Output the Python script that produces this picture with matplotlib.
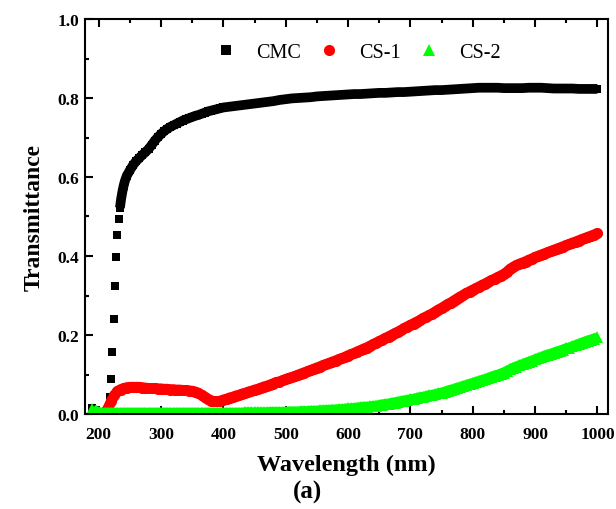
import numpy as np
import matplotlib
matplotlib.use('Agg')
import matplotlib.pyplot as plt
from matplotlib.lines import Line2D
from matplotlib.ticker import MultipleLocator

plt.rcParams['font.family'] = ['Liberation Serif', 'DejaVu Serif']
plt.rcParams['font.weight'] = 'bold'

# CMC: finer sampling through the absorption edge
cmc_wl = [190, 195, 200, 205, 210, 212, 214, 216, 218, 220, 222, 224, 226, 228,
          230, 232, 234, 236, 238, 240, 242, 245,
          250, 255, 260, 265, 270, 275, 280, 285, 290, 295, 300, 305, 310, 315,
          320, 325, 330, 335, 340, 345, 350, 355, 360, 365, 370, 375, 380, 385,
          390, 395, 400,
          410, 420, 430, 440, 450, 460, 470, 480, 490, 500, 510, 520, 530, 540,
          550, 560, 570, 580, 590, 600, 610, 620, 630, 640, 650, 660, 670, 680,
          690, 700, 710, 720, 730, 740, 750, 760, 770, 780, 790, 800, 810, 820,
          830, 840, 850, 860, 870, 880, 890, 900, 910, 920, 930, 940, 950, 960,
          970, 980, 990, 1000]
cmc_t = [0.015, 0.010, 0.006, 0.004, 0.005, 0.005, 0.008, 0.018, 0.042, 0.088,
         0.156, 0.240, 0.325, 0.397, 0.454, 0.494, 0.522, 0.545, 0.563, 0.578,
         0.590, 0.603,
         0.617, 0.630, 0.640, 0.648, 0.656, 0.663, 0.671, 0.681, 0.692, 0.701,
         0.709, 0.716, 0.722, 0.727, 0.731, 0.735, 0.739, 0.743, 0.746, 0.749,
         0.752, 0.755, 0.757, 0.760, 0.763, 0.766, 0.768, 0.770, 0.772, 0.774,
         0.776,
         0.778, 0.780, 0.782, 0.784, 0.786, 0.788, 0.790, 0.792, 0.795, 0.797,
         0.799, 0.800, 0.801, 0.802, 0.804, 0.805, 0.806, 0.807, 0.808, 0.809,
         0.810, 0.810, 0.811, 0.812, 0.813, 0.813, 0.814, 0.815, 0.815, 0.816,
         0.817, 0.818, 0.819, 0.820, 0.820, 0.821, 0.822, 0.823, 0.824, 0.825,
         0.826, 0.826, 0.826, 0.826, 0.825, 0.825, 0.825, 0.825, 0.826, 0.826,
         0.826, 0.825, 0.824, 0.824, 0.824, 0.824, 0.823, 0.823, 0.823, 0.823]

# CS-1 and CS-2 sampled every 5 nm
cs_wl = np.arange(190, 1001, 5)
cs1_t = [-0.005, -0.005, -0.005, -0.003, 0.003, 0.015, 0.032, 0.047, 0.057, 0.062,
         0.065, 0.067, 0.068, 0.068, 0.068, 0.068, 0.067, 0.066, 0.065, 0.065,
         0.065, 0.064, 0.064, 0.063, 0.063, 0.062, 0.062, 0.061, 0.061, 0.060,
         0.060, 0.059, 0.058, 0.056, 0.053, 0.048, 0.042, 0.037, 0.034, 0.032,
         0.032, 0.033, 0.036, 0.038, 0.041, 0.043, 0.046, 0.048, 0.051, 0.053,
         0.056, 0.058, 0.061, 0.063, 0.066, 0.069, 0.071, 0.074, 0.077, 0.080,
         0.082, 0.085, 0.088, 0.091, 0.093, 0.096, 0.099, 0.102, 0.105, 0.108,
         0.111, 0.114, 0.117, 0.120, 0.123, 0.126, 0.129, 0.132, 0.135, 0.138,
         0.141, 0.144, 0.148, 0.151, 0.154, 0.158, 0.161, 0.165, 0.168, 0.172,
         0.176, 0.180, 0.184, 0.188, 0.192, 0.196, 0.200, 0.204, 0.208, 0.212,
         0.217, 0.221, 0.225, 0.229, 0.233, 0.237, 0.242, 0.246, 0.250, 0.254,
         0.259, 0.264, 0.268, 0.273, 0.278, 0.282, 0.287, 0.292, 0.297, 0.301,
         0.306, 0.310, 0.314, 0.318, 0.322, 0.326, 0.330, 0.334, 0.338, 0.342,
         0.346, 0.350, 0.354, 0.360, 0.367, 0.372, 0.376, 0.380, 0.383, 0.386,
         0.390, 0.393, 0.397, 0.400, 0.403, 0.406, 0.409, 0.412, 0.415, 0.418,
         0.421, 0.424, 0.427, 0.430, 0.433, 0.436, 0.439, 0.442, 0.445, 0.448,
         0.451, 0.454, 0.457]
cs2_t = [0.012, 0.007, 0.004, 0.003, 0.003, 0.003, 0.003, 0.003, 0.003, 0.003,
         0.003, 0.003, 0.003, 0.003, 0.003, 0.003, 0.003, 0.003, 0.003, 0.003,
         0.003, 0.003, 0.003, 0.003, 0.003, 0.003, 0.003, 0.003, 0.003, 0.003,
         0.003, 0.003, 0.003, 0.003, 0.003, 0.003, 0.003, 0.003, 0.003, 0.003,
         0.003, 0.003, 0.003, 0.003, 0.003, 0.003, 0.003, 0.003, 0.003, 0.004,
         0.004, 0.004, 0.004, 0.004, 0.004, 0.004, 0.004, 0.005, 0.005, 0.005,
         0.005, 0.005, 0.005, 0.006, 0.006, 0.006, 0.006, 0.007, 0.007, 0.007,
         0.008, 0.008, 0.008, 0.009, 0.009, 0.010, 0.010, 0.011, 0.011, 0.012,
         0.012, 0.013, 0.014, 0.014, 0.015, 0.016, 0.017, 0.018, 0.018, 0.019,
         0.020, 0.021, 0.022, 0.024, 0.025, 0.026, 0.028, 0.029, 0.031, 0.032,
         0.034, 0.035, 0.037, 0.038, 0.040, 0.042, 0.043, 0.045, 0.047, 0.048,
         0.050, 0.052, 0.054, 0.056, 0.059, 0.061, 0.063, 0.066, 0.068, 0.071,
         0.073, 0.076, 0.078, 0.081, 0.083, 0.086, 0.088, 0.091, 0.094, 0.097,
         0.099, 0.102, 0.105, 0.109, 0.113, 0.117, 0.120, 0.123, 0.126, 0.129,
         0.132, 0.135, 0.138, 0.141, 0.144, 0.147, 0.150, 0.152, 0.155, 0.158,
         0.160, 0.163, 0.166, 0.168, 0.171, 0.174, 0.177, 0.180, 0.183, 0.186,
         0.188, 0.191, 0.194]

BLACK, RED, GREEN = 'black', '#ff0000', '#00ff00'

fig = plt.figure(figsize=(6.16, 5.10), dpi=100)
ax = fig.add_axes([85 / 616, 1 - 415 / 510, 523 / 616, 395 / 510])

# dense scatter points merge into solid bands; the edge points stay separate
edge = cmc_wl.index(234)
ax.plot(cmc_wl, cmc_t, ls='none', marker='s', ms=6.4, mew=0, color=BLACK)
ax.plot(cmc_wl[edge:], cmc_t[edge:], ls='-', lw=7.0, color=BLACK,
        solid_capstyle='butt', solid_joinstyle='round')
ax.plot(cs_wl, cs1_t, ls='-', lw=7.6, marker='o', ms=8, mew=0, color=RED,
        solid_capstyle='round', solid_joinstyle='round')
ax.plot(cs_wl, cs2_t, ls='-', lw=7.4, marker='^', ms=8, mew=0, color=GREEN,
        solid_capstyle='butt', solid_joinstyle='round')

ax.set_xlim(178, 1017)
ax.set_ylim(0, 1.0)
ax.xaxis.set_major_locator(MultipleLocator(100))
ax.xaxis.set_minor_locator(MultipleLocator(50))
ax.yaxis.set_major_locator(MultipleLocator(0.2))
ax.yaxis.set_minor_locator(MultipleLocator(0.1))
ax.yaxis.set_major_formatter(plt.FormatStrFormatter('%.1f'))
ax.tick_params(which='both', direction='in', top=True, right=False, width=1.5)
ax.tick_params(which='major', length=6, labelsize=12.5)
ax.tick_params(which='minor', length=3)
ax.tick_params(axis='x', which='major', pad=9)
ax.tick_params(axis='y', which='major', pad=4)
for lbl in ax.get_xticklabels() + ax.get_yticklabels():
    lbl.set_fontweight('bold')
for sp in ax.spines.values():
    sp.set_linewidth(1.5)

ax.set_xlabel('Wavelength (nm)', fontsize=17.5, fontweight='bold', labelpad=8)
ax.set_ylabel('Transmittance', fontsize=17, fontweight='bold', labelpad=9)

handles = [Line2D([], [], ls='none', marker='s', ms=7, mew=0, color=BLACK),
           Line2D([], [], ls='none', marker='o', ms=8, mew=0, color=RED),
           Line2D([], [], ls='none', marker='^', ms=9, mew=0, color=GREEN)]
ax.legend(handles, ['CMC', 'CS-1', 'CS-2'], loc='center left',
          bbox_to_anchor=(0.25, 0.915), ncol=3, frameon=False,
          prop={'weight': 'normal', 'size': 14.5}, handlelength=1.0,
          handletextpad=1.0, columnspacing=0.9, borderpad=0, borderaxespad=0)

fig.text(307 / 616, 1 - 492 / 510, '(a)', fontsize=18, fontweight='bold',
         ha='center', va='center')

fig.savefig('out.png', dpi=100)
